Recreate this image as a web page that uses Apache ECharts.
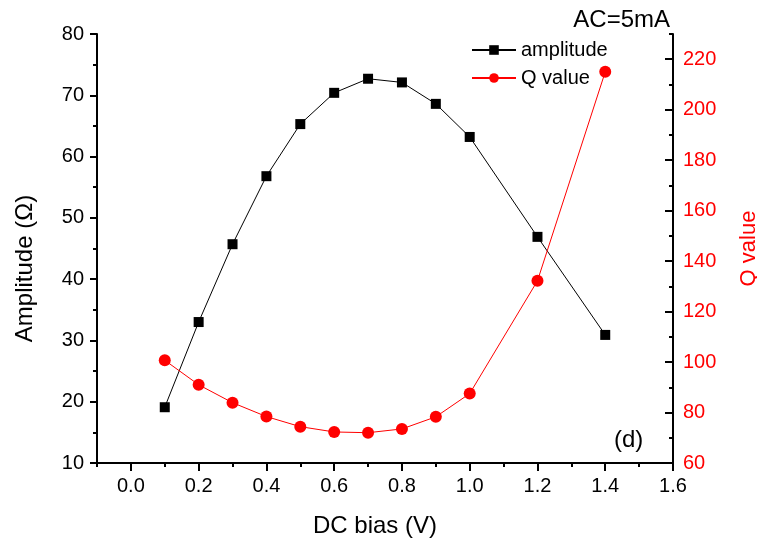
<!DOCTYPE html>
<html><head><meta charset="utf-8">
<script src="https://cdn.jsdelivr.net/npm/echarts@6/dist/echarts.min.js"></script>
<style>html,body{margin:0;padding:0;background:#fff}#c{width:757px;height:544px}</style>
</head><body><div id="c"></div>
<script>
const bias = [0.1, 0.2, 0.3, 0.4, 0.5, 0.6, 0.7, 0.8, 0.9, 1.0, 1.2, 1.4];
const amplitude = [19.1, 33.0, 45.7, 56.8, 65.3, 70.4, 72.7, 72.1, 68.6, 63.2, 46.9, 30.9];
const qValue = [100.7, 91.0, 83.9, 78.4, 74.4, 72.3, 72.0, 73.5, 78.3, 87.5, 132.2, 215.0];
const xMajorTicks = [0.0, 0.2, 0.4, 0.6, 0.8, 1.0, 1.2, 1.4, 1.6];
const qMajorTicks = [60, 80, 100, 120, 140, 160, 180, 200, 220];

const F = 'Liberation Sans, Arial, sans-serif';
const black = '#000';
const red = '#ff0000';
const chart = echarts.init(document.getElementById('c'));
chart.setOption({
  animation: false,
  backgroundColor: '#fff',
  grid: { left: 97, right: 84, top: 34, bottom: 81, containLabel: false, outerBoundsMode: 'none' },
  title: [
    { text: 'AC=5mA', right: 82, top: 3, textStyle: { fontFamily: F, fontSize: 24, fontWeight: 'normal', color: black } },
    { text: '(d)', left: 609, top: 423, textStyle: { fontFamily: F, fontSize: 24, fontWeight: 'normal', color: black } }
  ],
  legend: {
    left: 466, top: 35, orient: 'vertical', itemGap: 8, itemWidth: 44, itemHeight: 12,
    textStyle: { fontFamily: F, fontSize: 20, color: black },
    data: ['amplitude', 'Q value']
  },
  xAxis: [
    {
      type: 'value', min: -0.1, max: 1.6, interval: 0.1,
      name: 'DC bias (V)', nameLocation: 'middle', nameGap: 51, nameMoveOverlap: false,
      nameTextStyle: { fontFamily: F, fontSize: 24, color: black, padding: [0, 20, 0, 0] },
      axisLine: { show: true, onZero: false, lineStyle: { color: black, width: 2 } },
      axisTick: { show: true, inside: false, length: 4, lineStyle: { color: black, width: 2 } },
      axisLabel: { fontFamily: F, fontSize: 20, color: black, margin: 13,
        customValues: xMajorTicks, formatter: v => v.toFixed(1) },
      splitLine: { show: false }
    },
    {
      type: 'value', min: -0.1, max: 1.6, position: 'bottom',
      axisLine: { show: false, onZero: false },
      axisTick: { show: true, inside: false, length: 8, lineStyle: { color: black, width: 2 }, customValues: xMajorTicks },
      axisLabel: { show: false },
      splitLine: { show: false }
    }
  ],
  yAxis: [
    {
      type: 'value', min: 10, max: 80, interval: 10, position: 'left',
      name: 'Amplitude (Ω)', nameLocation: 'middle', nameGap: 60, nameRotate: 90, nameMoveOverlap: false,
      nameTextStyle: { fontFamily: F, fontSize: 24, color: black, padding: [0, 40, 0, 0] },
      axisLine: { show: true, onZero: false, lineStyle: { color: black, width: 2 } },
      axisTick: { show: true, inside: false, length: 7, lineStyle: { color: black, width: 2 } },
      minorTick: { show: true, splitNumber: 2, length: 4, lineStyle: { color: black, width: 2 } },
      axisLabel: { fontFamily: F, fontSize: 20, color: black, margin: 13 },
      splitLine: { show: false }
    },
    {
      type: 'value', min: 60, max: 230, interval: 20, position: 'right',
      name: 'Q value', nameLocation: 'middle', nameGap: 65, nameRotate: 90, nameMoveOverlap: false,
      nameTextStyle: { fontFamily: F, fontSize: 22, color: red },
      axisLine: { show: true, onZero: false, lineStyle: { color: black, width: 2 } },
      axisTick: { show: true, inside: true, length: 8, lineStyle: { color: black, width: 2 }, customValues: qMajorTicks },
      axisLabel: { fontFamily: F, fontSize: 20, color: red, margin: 10, customValues: qMajorTicks },
      splitLine: { show: false }
    },
    {
      type: 'value', min: 60, max: 230, interval: 10, position: 'right',
      axisLine: { show: false, onZero: false },
      axisTick: { show: true, inside: true, length: 4, lineStyle: { color: black, width: 2 } },
      axisLabel: { show: false },
      splitLine: { show: false }
    }
  ],
  series: [
    {
      name: 'amplitude', type: 'line', xAxisIndex: 0, yAxisIndex: 0,
      data: bias.map((x, i) => [x, amplitude[i]]),
      symbol: 'rect', symbolSize: 10,
      itemStyle: { color: black }, lineStyle: { color: black, width: 1 }
    },
    {
      name: 'Q value', type: 'line', xAxisIndex: 0, yAxisIndex: 1,
      data: bias.map((x, i) => [x, qValue[i]]),
      symbol: 'circle', symbolSize: 12,
      itemStyle: { color: red }, lineStyle: { color: red, width: 1 }
    }
  ]
});
</script></body></html>
